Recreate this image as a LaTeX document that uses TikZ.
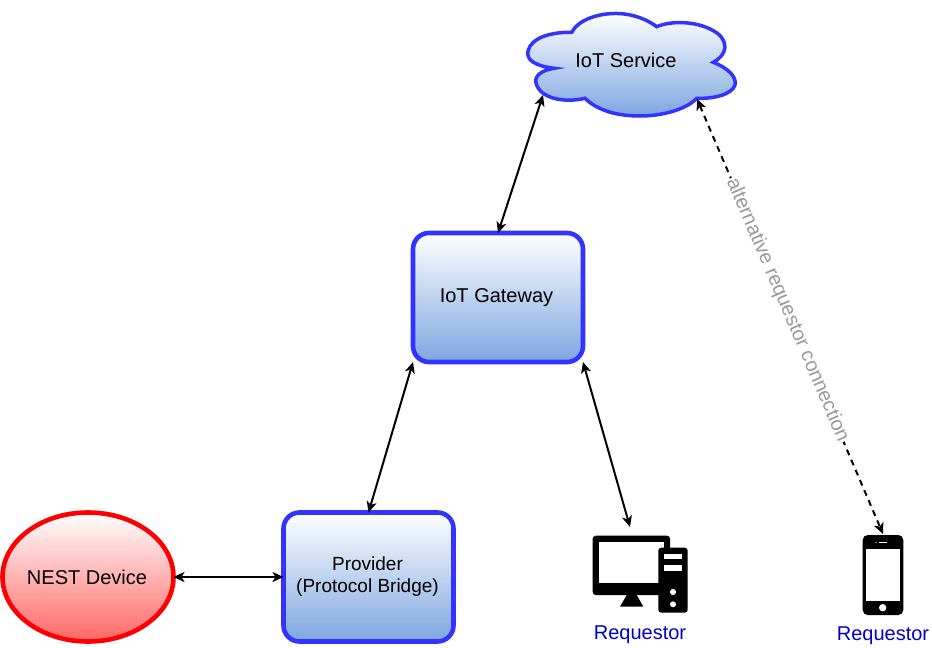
\documentclass[tikz,border=0pt]{standalone}
\usepackage{fontspec}
\setmainfont{Liberation Sans}
\usetikzlibrary{arrows.meta, shapes.geometric}
\definecolor{stroke}{HTML}{3333FF}
\definecolor{fillend}{HTML}{7EA6E0}
\definecolor{labelblue}{HTML}{0000CC}
\tikzset{
  every node/.style={font=\fontsize{20}{24}\selectfont, align=center, inner sep=0pt, outer sep=0pt},
  blockbox/.style={draw=stroke, line width=4.6pt, rounded corners=16pt, top color=white, bottom color=fillend,
    minimum width=170pt, minimum height=129pt},
  devicebox/.style={ellipse, draw=red, line width=4.6pt, top color=white, bottom color=red!60,
    minimum width=171pt, minimum height=129pt},
  link/.style={line width=2pt, {Stealth[length=11pt,width=10pt,inset=3pt]}-{Stealth[length=11pt,width=10pt,inset=3pt]}},
  caption/.style={text=labelblue}
}
\begin{document}
\begin{tikzpicture}[x=1pt, y=-1pt]
  \useasboundingbox (0,0) rectangle (932,648);
  % cloud
  \path[draw=stroke, line width=3.5pt, top color=white, bottom color=fillend]
    (554.3,68.3) .. controls (535,66) and (526,60) .. (528,51)
    .. controls (531,38) and (550,32) .. (571.7,32.3)
    .. controls (578,20) and (598,13) .. (618,13.5)
    .. controls (634,14) and (648,20) .. (656.7,26.7)
    .. controls (672,20) and (700,21) .. (717,33)
    .. controls (729,42) and (727,55) .. (713.3,62.3)
    .. controls (728,68) and (737,77) .. (735,85)
    .. controls (732,95) and (712,99) .. (696.7,98.3)
    .. controls (688,108) and (665,116) .. (640,116)
    .. controls (612,116) and (595,108) .. (585,98.3)
    .. controls (565,103) and (540,99) .. (536,83)
    .. controls (534,76) and (542,70) .. (554.3,68.3) -- cycle;
  \node (service) at (626,60) {IoT Service};
  \coordinate (serviceleft) at (543,95);
  \coordinate (serviceright) at (697,99);
  % blocks
  \node[blockbox] (gateway) at (498,297.5) {\kern-3pt IoT Gateway};
  \node[blockbox, font=\fontsize{19}{22}\selectfont] (provider) at (368.5,577) {\kern-2pt Provider\\\kern-2pt (Protocol Bridge)};
  \node[devicebox] (nest) at (88,577) {\kern-2pt NEST Device};
  % desktop
  \fill[black, rounded corners=3pt] (592.7,535.7) rectangle (670,595);
  \fill[white] (599,541.7) rectangle (664,583.3);
  \fill[black] (626.7,595) -- (636.7,595) -- (643.3,606.7) -- (620,606.7) -- cycle;
  \fill[black, rounded corners=3pt] (658.3,547.7) rectangle (687.7,612.7);
  \fill[white] (664,554) rectangle (682.3,559.3);
  \fill[white] (664,565.3) rectangle (682.3,571.3);
  \fill[white] (673,592) circle (3);
  \fill[white] (673,604.3) circle (3);
  \coordinate (desktop) at (630,527);
  \node[caption] (desktoplabel) at (640,635) {Requestor};
  % phone
  \fill[black, rounded corners=5pt] (862.7,535) rectangle (903.3,615);
  \fill[white] (865.7,549) rectangle (900.3,601);
  \fill[white] (882.7,607.7) circle (3.7);
  \fill[white] (879.3,541.8) rectangle (886.7,542.8);
  \fill[white] (876,542.3) circle (0.6);
  \coordinate (phone) at (883,534);
  \node[caption] (phonelabel) at (883,636) {Requestor};
  % connectors
  \draw[link] (nest) -- (provider);
  \draw[link] (provider.north) -- (gateway.south west);
  \draw[link] (gateway.south east) -- (desktop);
  \draw[link] (gateway.north) -- (serviceleft);
  \draw[link, dash pattern=on 6pt off 5pt] (serviceright) -- node[pos=0.485, sloped, fill=white, text=black!40, inner sep=1pt] {alternative requestor connection} (phone);
\end{tikzpicture}
\end{document}
